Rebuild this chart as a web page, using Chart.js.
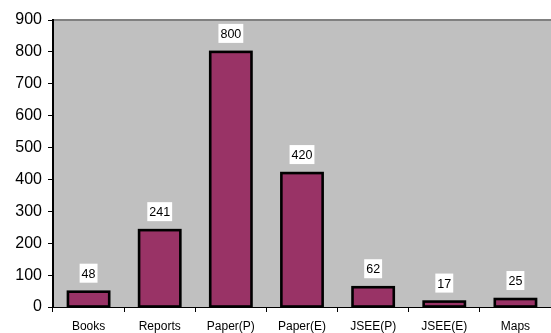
<!DOCTYPE html>
<html>
<head>
<meta charset="utf-8">
<script src="https://cdn.jsdelivr.net/npm/chart.js@4"></script>
<style>
  html, body { margin: 0; padding: 0; background: #fff; }
  #wrap { width: 551px; height: 333px; }
</style>
</head>
<body>
<div id="wrap"><canvas id="chart" width="551" height="333"></canvas></div>
<script>
const categories = ['Books', 'Reports', 'Paper(P)', 'Paper(E)', 'JSEE(P)', 'JSEE(E)', 'Maps'];
const counts = [48, 241, 800, 420, 62, 17, 25];
const yTicks = [0, 100, 200, 300, 400, 500, 600, 700, 800, 900];

// grey plot area plus the thin top rule
const plotBg = {
    id: 'plotBg',
    beforeDraw(chart) {
        const { ctx, chartArea: a } = chart;
        ctx.save();
        ctx.fillStyle = '#c0c0c0';
        ctx.fillRect(a.left, a.top, a.right - a.left, a.bottom - a.top);
        ctx.fillStyle = '#808080';
        ctx.fillRect(a.left, a.top - 1, a.right - a.left, 2);
        ctx.restore();
    }
};

// centred black outline on each bar (Excel style), then value labels in white boxes
const valueBoxes = {
    id: 'valueBoxes',
    afterDatasetsDraw(chart) {
        const { ctx } = chart;
        const meta = chart.getDatasetMeta(0);
        ctx.save();
        ctx.strokeStyle = '#000000';
        ctx.lineWidth = 2.6;
        meta.data.forEach(bar => {
            ctx.strokeRect(bar.x - bar.width / 2, bar.y, bar.width, bar.base - bar.y);
        });
        ctx.font = '12.5px Arial, "Liberation Sans", sans-serif';
        ctx.textAlign = 'center';
        ctx.textBaseline = 'middle';
        meta.data.forEach((bar, i) => {
            const txt = String(counts[i]);
            const w = ctx.measureText(txt).width + 4;
            const h = 19;
            const cy = bar.y - 9 - h / 2;
            ctx.fillStyle = '#ffffff';
            ctx.fillRect(bar.x - w / 2, cy - h / 2, w, h);
            ctx.fillStyle = '#000000';
            ctx.fillText(txt, bar.x, cy + 1);
        });
        ctx.restore();
    }
};

new Chart(document.getElementById('chart'), {
    type: 'bar',
    data: {
        labels: categories,
        datasets: [{
            data: counts,
            backgroundColor: '#993366',
            borderWidth: 0,
            barPercentage: 0.58,
            categoryPercentage: 1
        }]
    },
    options: {
        responsive: false,
        animation: false,
        layout: { padding: { top: 20, right: 0, left: 0, bottom: 0 } },
        plugins: {
            legend: { display: false },
            tooltip: { enabled: false }
        },
        scales: {
            x: {
                grid: {
                    display: true,
                    drawOnChartArea: false,
                    drawTicks: true,
                    tickLength: 5,
                    color: '#000000',
                    offset: true
                },
                border: { display: true, color: '#000000', width: 1 },
                ticks: {
                    color: '#000000',
                    font: { family: 'Arial, "Liberation Sans", sans-serif', size: 12 },
                    padding: 7,
                    maxRotation: 0,
                    autoSkip: false
                },
                afterFit(scale) { scale.height = 26; }
            },
            y: {
                min: 0,
                max: 900,
                afterBuildTicks(scale) { scale.ticks = yTicks.map(v => ({ value: v })); },
                grid: {
                    display: true,
                    drawOnChartArea: false,
                    drawTicks: true,
                    tickLength: 5,
                    color: '#000000'
                },
                border: { display: true, color: '#000000', width: 2 },
                ticks: {
                    color: '#000000',
                    font: { family: 'Arial, "Liberation Sans", sans-serif', size: 16 },
                    padding: 6
                },
                afterFit(scale) { scale.width = 53; }
            }
        }
    },
    plugins: [plotBg, valueBoxes]
});
</script>
</body>
</html>
